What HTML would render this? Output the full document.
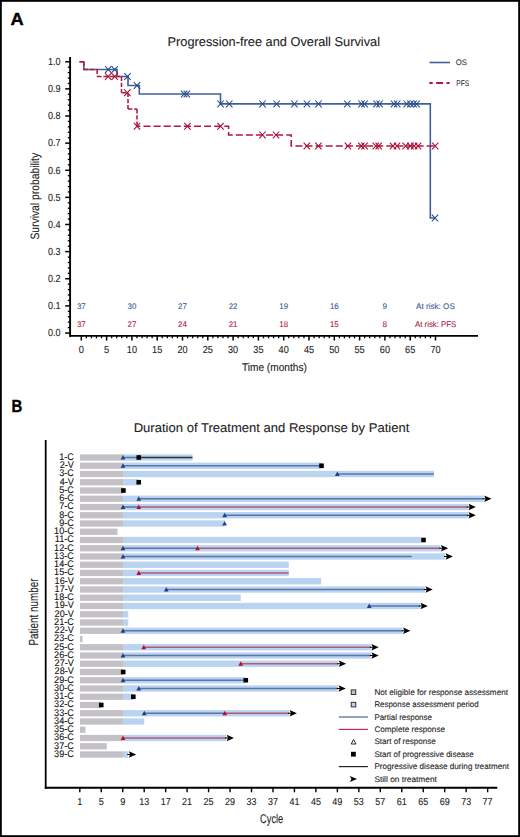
<!DOCTYPE html>
<html><head><meta charset="utf-8"><style>
html,body{margin:0;padding:0;background:#fff;}
svg{display:block;font-family:"Liberation Sans", sans-serif;text-rendering:geometricPrecision;}
</style></head><body>
<svg width="520" height="837" viewBox="0 0 520 837">
<rect x="0" y="0" width="520" height="837" fill="#fff"/>
<text x="10.6" y="24.9" font-size="17.6" text-anchor="start" fill="#000" stroke="#000" stroke-width="0.4" font-weight="bold" textLength="13.2" lengthAdjust="spacingAndGlyphs">A</text>
<text x="167.5" y="45.5" font-size="12.8" text-anchor="start" fill="#222" stroke="#222" stroke-width="0.1" font-weight="normal" textLength="212.5" lengthAdjust="spacingAndGlyphs">Progression-free and Overall Survival</text>
<line x1="429.5" y1="62.5" x2="450" y2="62.5" stroke="#41609a" stroke-width="1.6"/>
<text x="455.8" y="65.3" font-size="8.2" text-anchor="start" fill="#333" stroke="#333" stroke-width="0.1" font-weight="normal" textLength="11.2" lengthAdjust="spacingAndGlyphs">OS</text>
<line x1="429.3" y1="83" x2="449.6" y2="83" stroke="#b3163f" stroke-width="2" stroke-dasharray="3.4 3.5 6.8 3.5 3.4"/>
<text x="456.3" y="85.5" font-size="8.2" text-anchor="start" fill="#333" stroke="#333" stroke-width="0.1" font-weight="normal" textLength="12.9" lengthAdjust="spacingAndGlyphs">PFS</text>
<g stroke="#000" fill="none">
<line x1="70.1" y1="57" x2="70.1" y2="336.8" stroke-width="1.9"/>
<line x1="69.2" y1="335.9" x2="478" y2="335.9" stroke-width="1.9"/>
<line x1="65.2" y1="333.00" x2="70" y2="333.00" stroke-width="1.5"/>
<line x1="67.8" y1="327.58" x2="70" y2="327.58" stroke-width="1.3"/>
<line x1="67.8" y1="322.15" x2="70" y2="322.15" stroke-width="1.3"/>
<line x1="67.8" y1="316.73" x2="70" y2="316.73" stroke-width="1.3"/>
<line x1="67.8" y1="311.30" x2="70" y2="311.30" stroke-width="1.3"/>
<line x1="65.2" y1="305.88" x2="70" y2="305.88" stroke-width="1.5"/>
<line x1="67.8" y1="300.45" x2="70" y2="300.45" stroke-width="1.3"/>
<line x1="67.8" y1="295.03" x2="70" y2="295.03" stroke-width="1.3"/>
<line x1="67.8" y1="289.60" x2="70" y2="289.60" stroke-width="1.3"/>
<line x1="67.8" y1="284.18" x2="70" y2="284.18" stroke-width="1.3"/>
<line x1="65.2" y1="278.75" x2="70" y2="278.75" stroke-width="1.5"/>
<line x1="67.8" y1="273.33" x2="70" y2="273.33" stroke-width="1.3"/>
<line x1="67.8" y1="267.90" x2="70" y2="267.90" stroke-width="1.3"/>
<line x1="67.8" y1="262.48" x2="70" y2="262.48" stroke-width="1.3"/>
<line x1="67.8" y1="257.05" x2="70" y2="257.05" stroke-width="1.3"/>
<line x1="65.2" y1="251.63" x2="70" y2="251.63" stroke-width="1.5"/>
<line x1="67.8" y1="246.20" x2="70" y2="246.20" stroke-width="1.3"/>
<line x1="67.8" y1="240.78" x2="70" y2="240.78" stroke-width="1.3"/>
<line x1="67.8" y1="235.35" x2="70" y2="235.35" stroke-width="1.3"/>
<line x1="67.8" y1="229.93" x2="70" y2="229.93" stroke-width="1.3"/>
<line x1="65.2" y1="224.50" x2="70" y2="224.50" stroke-width="1.5"/>
<line x1="67.8" y1="219.08" x2="70" y2="219.08" stroke-width="1.3"/>
<line x1="67.8" y1="213.65" x2="70" y2="213.65" stroke-width="1.3"/>
<line x1="67.8" y1="208.23" x2="70" y2="208.23" stroke-width="1.3"/>
<line x1="67.8" y1="202.80" x2="70" y2="202.80" stroke-width="1.3"/>
<line x1="65.2" y1="197.38" x2="70" y2="197.38" stroke-width="1.5"/>
<line x1="67.8" y1="191.96" x2="70" y2="191.96" stroke-width="1.3"/>
<line x1="67.8" y1="186.53" x2="70" y2="186.53" stroke-width="1.3"/>
<line x1="67.8" y1="181.11" x2="70" y2="181.11" stroke-width="1.3"/>
<line x1="67.8" y1="175.68" x2="70" y2="175.68" stroke-width="1.3"/>
<line x1="65.2" y1="170.26" x2="70" y2="170.26" stroke-width="1.5"/>
<line x1="67.8" y1="164.83" x2="70" y2="164.83" stroke-width="1.3"/>
<line x1="67.8" y1="159.41" x2="70" y2="159.41" stroke-width="1.3"/>
<line x1="67.8" y1="153.98" x2="70" y2="153.98" stroke-width="1.3"/>
<line x1="67.8" y1="148.56" x2="70" y2="148.56" stroke-width="1.3"/>
<line x1="65.2" y1="143.13" x2="70" y2="143.13" stroke-width="1.5"/>
<line x1="67.8" y1="137.71" x2="70" y2="137.71" stroke-width="1.3"/>
<line x1="67.8" y1="132.28" x2="70" y2="132.28" stroke-width="1.3"/>
<line x1="67.8" y1="126.86" x2="70" y2="126.86" stroke-width="1.3"/>
<line x1="67.8" y1="121.43" x2="70" y2="121.43" stroke-width="1.3"/>
<line x1="65.2" y1="116.01" x2="70" y2="116.01" stroke-width="1.5"/>
<line x1="67.8" y1="110.58" x2="70" y2="110.58" stroke-width="1.3"/>
<line x1="67.8" y1="105.16" x2="70" y2="105.16" stroke-width="1.3"/>
<line x1="67.8" y1="99.73" x2="70" y2="99.73" stroke-width="1.3"/>
<line x1="67.8" y1="94.31" x2="70" y2="94.31" stroke-width="1.3"/>
<line x1="65.2" y1="88.88" x2="70" y2="88.88" stroke-width="1.5"/>
<line x1="67.8" y1="83.46" x2="70" y2="83.46" stroke-width="1.3"/>
<line x1="67.8" y1="78.03" x2="70" y2="78.03" stroke-width="1.3"/>
<line x1="67.8" y1="72.61" x2="70" y2="72.61" stroke-width="1.3"/>
<line x1="67.8" y1="67.18" x2="70" y2="67.18" stroke-width="1.3"/>
<line x1="65.2" y1="61.76" x2="70" y2="61.76" stroke-width="1.5"/>
<line x1="81.30" y1="336" x2="81.30" y2="340.5" stroke-width="1.5"/>
<line x1="86.36" y1="336" x2="86.36" y2="338.3" stroke-width="1.3"/>
<line x1="91.42" y1="336" x2="91.42" y2="338.3" stroke-width="1.3"/>
<line x1="96.48" y1="336" x2="96.48" y2="338.3" stroke-width="1.3"/>
<line x1="101.54" y1="336" x2="101.54" y2="338.3" stroke-width="1.3"/>
<line x1="106.60" y1="336" x2="106.60" y2="340.5" stroke-width="1.5"/>
<line x1="111.66" y1="336" x2="111.66" y2="338.3" stroke-width="1.3"/>
<line x1="116.72" y1="336" x2="116.72" y2="338.3" stroke-width="1.3"/>
<line x1="121.78" y1="336" x2="121.78" y2="338.3" stroke-width="1.3"/>
<line x1="126.84" y1="336" x2="126.84" y2="338.3" stroke-width="1.3"/>
<line x1="131.90" y1="336" x2="131.90" y2="340.5" stroke-width="1.5"/>
<line x1="136.96" y1="336" x2="136.96" y2="338.3" stroke-width="1.3"/>
<line x1="142.02" y1="336" x2="142.02" y2="338.3" stroke-width="1.3"/>
<line x1="147.08" y1="336" x2="147.08" y2="338.3" stroke-width="1.3"/>
<line x1="152.14" y1="336" x2="152.14" y2="338.3" stroke-width="1.3"/>
<line x1="157.20" y1="336" x2="157.20" y2="340.5" stroke-width="1.5"/>
<line x1="162.26" y1="336" x2="162.26" y2="338.3" stroke-width="1.3"/>
<line x1="167.32" y1="336" x2="167.32" y2="338.3" stroke-width="1.3"/>
<line x1="172.38" y1="336" x2="172.38" y2="338.3" stroke-width="1.3"/>
<line x1="177.44" y1="336" x2="177.44" y2="338.3" stroke-width="1.3"/>
<line x1="182.50" y1="336" x2="182.50" y2="340.5" stroke-width="1.5"/>
<line x1="187.56" y1="336" x2="187.56" y2="338.3" stroke-width="1.3"/>
<line x1="192.62" y1="336" x2="192.62" y2="338.3" stroke-width="1.3"/>
<line x1="197.68" y1="336" x2="197.68" y2="338.3" stroke-width="1.3"/>
<line x1="202.74" y1="336" x2="202.74" y2="338.3" stroke-width="1.3"/>
<line x1="207.80" y1="336" x2="207.80" y2="340.5" stroke-width="1.5"/>
<line x1="212.86" y1="336" x2="212.86" y2="338.3" stroke-width="1.3"/>
<line x1="217.92" y1="336" x2="217.92" y2="338.3" stroke-width="1.3"/>
<line x1="222.98" y1="336" x2="222.98" y2="338.3" stroke-width="1.3"/>
<line x1="228.04" y1="336" x2="228.04" y2="338.3" stroke-width="1.3"/>
<line x1="233.10" y1="336" x2="233.10" y2="340.5" stroke-width="1.5"/>
<line x1="238.16" y1="336" x2="238.16" y2="338.3" stroke-width="1.3"/>
<line x1="243.22" y1="336" x2="243.22" y2="338.3" stroke-width="1.3"/>
<line x1="248.28" y1="336" x2="248.28" y2="338.3" stroke-width="1.3"/>
<line x1="253.34" y1="336" x2="253.34" y2="338.3" stroke-width="1.3"/>
<line x1="258.40" y1="336" x2="258.40" y2="340.5" stroke-width="1.5"/>
<line x1="263.46" y1="336" x2="263.46" y2="338.3" stroke-width="1.3"/>
<line x1="268.52" y1="336" x2="268.52" y2="338.3" stroke-width="1.3"/>
<line x1="273.58" y1="336" x2="273.58" y2="338.3" stroke-width="1.3"/>
<line x1="278.64" y1="336" x2="278.64" y2="338.3" stroke-width="1.3"/>
<line x1="283.70" y1="336" x2="283.70" y2="340.5" stroke-width="1.5"/>
<line x1="288.76" y1="336" x2="288.76" y2="338.3" stroke-width="1.3"/>
<line x1="293.82" y1="336" x2="293.82" y2="338.3" stroke-width="1.3"/>
<line x1="298.88" y1="336" x2="298.88" y2="338.3" stroke-width="1.3"/>
<line x1="303.94" y1="336" x2="303.94" y2="338.3" stroke-width="1.3"/>
<line x1="309.00" y1="336" x2="309.00" y2="340.5" stroke-width="1.5"/>
<line x1="314.06" y1="336" x2="314.06" y2="338.3" stroke-width="1.3"/>
<line x1="319.12" y1="336" x2="319.12" y2="338.3" stroke-width="1.3"/>
<line x1="324.18" y1="336" x2="324.18" y2="338.3" stroke-width="1.3"/>
<line x1="329.24" y1="336" x2="329.24" y2="338.3" stroke-width="1.3"/>
<line x1="334.30" y1="336" x2="334.30" y2="340.5" stroke-width="1.5"/>
<line x1="339.36" y1="336" x2="339.36" y2="338.3" stroke-width="1.3"/>
<line x1="344.42" y1="336" x2="344.42" y2="338.3" stroke-width="1.3"/>
<line x1="349.48" y1="336" x2="349.48" y2="338.3" stroke-width="1.3"/>
<line x1="354.54" y1="336" x2="354.54" y2="338.3" stroke-width="1.3"/>
<line x1="359.60" y1="336" x2="359.60" y2="340.5" stroke-width="1.5"/>
<line x1="364.66" y1="336" x2="364.66" y2="338.3" stroke-width="1.3"/>
<line x1="369.72" y1="336" x2="369.72" y2="338.3" stroke-width="1.3"/>
<line x1="374.78" y1="336" x2="374.78" y2="338.3" stroke-width="1.3"/>
<line x1="379.84" y1="336" x2="379.84" y2="338.3" stroke-width="1.3"/>
<line x1="384.90" y1="336" x2="384.90" y2="340.5" stroke-width="1.5"/>
<line x1="389.96" y1="336" x2="389.96" y2="338.3" stroke-width="1.3"/>
<line x1="395.02" y1="336" x2="395.02" y2="338.3" stroke-width="1.3"/>
<line x1="400.08" y1="336" x2="400.08" y2="338.3" stroke-width="1.3"/>
<line x1="405.14" y1="336" x2="405.14" y2="338.3" stroke-width="1.3"/>
<line x1="410.20" y1="336" x2="410.20" y2="340.5" stroke-width="1.5"/>
<line x1="415.26" y1="336" x2="415.26" y2="338.3" stroke-width="1.3"/>
<line x1="420.32" y1="336" x2="420.32" y2="338.3" stroke-width="1.3"/>
<line x1="425.38" y1="336" x2="425.38" y2="338.3" stroke-width="1.3"/>
<line x1="430.44" y1="336" x2="430.44" y2="338.3" stroke-width="1.3"/>
<line x1="435.50" y1="336" x2="435.50" y2="340.5" stroke-width="1.5"/>
</g>
<text x="60.6" y="336.30" font-size="10.2" text-anchor="end" fill="#222" stroke="#222" stroke-width="0.1" font-weight="normal" textLength="12.6" lengthAdjust="spacingAndGlyphs">0.0</text>
<text x="60.6" y="309.18" font-size="10.2" text-anchor="end" fill="#222" stroke="#222" stroke-width="0.1" font-weight="normal" textLength="12.6" lengthAdjust="spacingAndGlyphs">0.1</text>
<text x="60.6" y="282.05" font-size="10.2" text-anchor="end" fill="#222" stroke="#222" stroke-width="0.1" font-weight="normal" textLength="12.6" lengthAdjust="spacingAndGlyphs">0.2</text>
<text x="60.6" y="254.93" font-size="10.2" text-anchor="end" fill="#222" stroke="#222" stroke-width="0.1" font-weight="normal" textLength="12.6" lengthAdjust="spacingAndGlyphs">0.3</text>
<text x="60.6" y="227.80" font-size="10.2" text-anchor="end" fill="#222" stroke="#222" stroke-width="0.1" font-weight="normal" textLength="12.6" lengthAdjust="spacingAndGlyphs">0.4</text>
<text x="60.6" y="200.68" font-size="10.2" text-anchor="end" fill="#222" stroke="#222" stroke-width="0.1" font-weight="normal" textLength="12.6" lengthAdjust="spacingAndGlyphs">0.5</text>
<text x="60.6" y="173.56" font-size="10.2" text-anchor="end" fill="#222" stroke="#222" stroke-width="0.1" font-weight="normal" textLength="12.6" lengthAdjust="spacingAndGlyphs">0.6</text>
<text x="60.6" y="146.43" font-size="10.2" text-anchor="end" fill="#222" stroke="#222" stroke-width="0.1" font-weight="normal" textLength="12.6" lengthAdjust="spacingAndGlyphs">0.7</text>
<text x="60.6" y="119.31" font-size="10.2" text-anchor="end" fill="#222" stroke="#222" stroke-width="0.1" font-weight="normal" textLength="12.6" lengthAdjust="spacingAndGlyphs">0.8</text>
<text x="60.6" y="92.18" font-size="10.2" text-anchor="end" fill="#222" stroke="#222" stroke-width="0.1" font-weight="normal" textLength="12.6" lengthAdjust="spacingAndGlyphs">0.9</text>
<text x="60.6" y="65.06" font-size="10.2" text-anchor="end" fill="#222" stroke="#222" stroke-width="0.1" font-weight="normal" textLength="12.6" lengthAdjust="spacingAndGlyphs">1.0</text>
<text x="81.30" y="353.0" font-size="10.2" text-anchor="middle" fill="#222" stroke="#222" stroke-width="0.1" font-weight="normal" textLength="5.2" lengthAdjust="spacingAndGlyphs">0</text>
<text x="106.60" y="353.0" font-size="10.2" text-anchor="middle" fill="#222" stroke="#222" stroke-width="0.1" font-weight="normal" textLength="5.2" lengthAdjust="spacingAndGlyphs">5</text>
<text x="131.90" y="353.0" font-size="10.2" text-anchor="middle" fill="#222" stroke="#222" stroke-width="0.1" font-weight="normal" textLength="10.2" lengthAdjust="spacingAndGlyphs">10</text>
<text x="157.20" y="353.0" font-size="10.2" text-anchor="middle" fill="#222" stroke="#222" stroke-width="0.1" font-weight="normal" textLength="10.2" lengthAdjust="spacingAndGlyphs">15</text>
<text x="182.50" y="353.0" font-size="10.2" text-anchor="middle" fill="#222" stroke="#222" stroke-width="0.1" font-weight="normal" textLength="10.2" lengthAdjust="spacingAndGlyphs">20</text>
<text x="207.80" y="353.0" font-size="10.2" text-anchor="middle" fill="#222" stroke="#222" stroke-width="0.1" font-weight="normal" textLength="10.2" lengthAdjust="spacingAndGlyphs">25</text>
<text x="233.10" y="353.0" font-size="10.2" text-anchor="middle" fill="#222" stroke="#222" stroke-width="0.1" font-weight="normal" textLength="10.2" lengthAdjust="spacingAndGlyphs">30</text>
<text x="258.40" y="353.0" font-size="10.2" text-anchor="middle" fill="#222" stroke="#222" stroke-width="0.1" font-weight="normal" textLength="10.2" lengthAdjust="spacingAndGlyphs">35</text>
<text x="283.70" y="353.0" font-size="10.2" text-anchor="middle" fill="#222" stroke="#222" stroke-width="0.1" font-weight="normal" textLength="10.2" lengthAdjust="spacingAndGlyphs">40</text>
<text x="309.00" y="353.0" font-size="10.2" text-anchor="middle" fill="#222" stroke="#222" stroke-width="0.1" font-weight="normal" textLength="10.2" lengthAdjust="spacingAndGlyphs">45</text>
<text x="334.30" y="353.0" font-size="10.2" text-anchor="middle" fill="#222" stroke="#222" stroke-width="0.1" font-weight="normal" textLength="10.2" lengthAdjust="spacingAndGlyphs">50</text>
<text x="359.60" y="353.0" font-size="10.2" text-anchor="middle" fill="#222" stroke="#222" stroke-width="0.1" font-weight="normal" textLength="10.2" lengthAdjust="spacingAndGlyphs">55</text>
<text x="384.90" y="353.0" font-size="10.2" text-anchor="middle" fill="#222" stroke="#222" stroke-width="0.1" font-weight="normal" textLength="10.2" lengthAdjust="spacingAndGlyphs">60</text>
<text x="410.20" y="353.0" font-size="10.2" text-anchor="middle" fill="#222" stroke="#222" stroke-width="0.1" font-weight="normal" textLength="10.2" lengthAdjust="spacingAndGlyphs">65</text>
<text x="435.50" y="353.0" font-size="10.2" text-anchor="middle" fill="#222" stroke="#222" stroke-width="0.1" font-weight="normal" textLength="10.2" lengthAdjust="spacingAndGlyphs">70</text>
<text x="241.9" y="370.8" font-size="11.2" text-anchor="start" fill="#222" stroke="#222" stroke-width="0.1" font-weight="normal" textLength="65" lengthAdjust="spacingAndGlyphs">Time (months)</text>
<text transform="translate(39.3,239.6) rotate(-90)" font-size="12.2" fill="#222" stroke="#222" stroke-width="0.1" textLength="86.7" lengthAdjust="spacingAndGlyphs">Survival probability</text>
<text x="81.30" y="309.2" font-size="8.2" text-anchor="middle" fill="#3a5a98" stroke="#3a5a98" stroke-width="0.1" font-weight="normal" textLength="8.8" lengthAdjust="spacingAndGlyphs">37</text>
<text x="81.30" y="326.8" font-size="8.2" text-anchor="middle" fill="#b01a40" stroke="#b01a40" stroke-width="0.1" font-weight="normal" textLength="8.8" lengthAdjust="spacingAndGlyphs">37</text>
<text x="131.90" y="309.2" font-size="8.2" text-anchor="middle" fill="#3a5a98" stroke="#3a5a98" stroke-width="0.1" font-weight="normal" textLength="8.8" lengthAdjust="spacingAndGlyphs">30</text>
<text x="131.90" y="326.8" font-size="8.2" text-anchor="middle" fill="#b01a40" stroke="#b01a40" stroke-width="0.1" font-weight="normal" textLength="8.8" lengthAdjust="spacingAndGlyphs">27</text>
<text x="182.50" y="309.2" font-size="8.2" text-anchor="middle" fill="#3a5a98" stroke="#3a5a98" stroke-width="0.1" font-weight="normal" textLength="8.8" lengthAdjust="spacingAndGlyphs">27</text>
<text x="182.50" y="326.8" font-size="8.2" text-anchor="middle" fill="#b01a40" stroke="#b01a40" stroke-width="0.1" font-weight="normal" textLength="8.8" lengthAdjust="spacingAndGlyphs">24</text>
<text x="233.10" y="309.2" font-size="8.2" text-anchor="middle" fill="#3a5a98" stroke="#3a5a98" stroke-width="0.1" font-weight="normal" textLength="8.8" lengthAdjust="spacingAndGlyphs">22</text>
<text x="233.10" y="326.8" font-size="8.2" text-anchor="middle" fill="#b01a40" stroke="#b01a40" stroke-width="0.1" font-weight="normal" textLength="8.8" lengthAdjust="spacingAndGlyphs">21</text>
<text x="283.70" y="309.2" font-size="8.2" text-anchor="middle" fill="#3a5a98" stroke="#3a5a98" stroke-width="0.1" font-weight="normal" textLength="8.8" lengthAdjust="spacingAndGlyphs">19</text>
<text x="283.70" y="326.8" font-size="8.2" text-anchor="middle" fill="#b01a40" stroke="#b01a40" stroke-width="0.1" font-weight="normal" textLength="8.8" lengthAdjust="spacingAndGlyphs">18</text>
<text x="334.30" y="309.2" font-size="8.2" text-anchor="middle" fill="#3a5a98" stroke="#3a5a98" stroke-width="0.1" font-weight="normal" textLength="8.8" lengthAdjust="spacingAndGlyphs">16</text>
<text x="334.30" y="326.8" font-size="8.2" text-anchor="middle" fill="#b01a40" stroke="#b01a40" stroke-width="0.1" font-weight="normal" textLength="8.8" lengthAdjust="spacingAndGlyphs">15</text>
<text x="384.90" y="309.2" font-size="8.2" text-anchor="middle" fill="#3a5a98" stroke="#3a5a98" stroke-width="0.1" font-weight="normal" textLength="4.6" lengthAdjust="spacingAndGlyphs">9</text>
<text x="384.90" y="326.8" font-size="8.2" text-anchor="middle" fill="#b01a40" stroke="#b01a40" stroke-width="0.1" font-weight="normal" textLength="4.6" lengthAdjust="spacingAndGlyphs">8</text>
<text x="416.1" y="309.2" font-size="8.2" text-anchor="start" fill="#3a5a98" stroke="#3a5a98" stroke-width="0.1" font-weight="normal" textLength="38.7" lengthAdjust="spacingAndGlyphs">At risk: OS</text>
<text x="415" y="326.8" font-size="8.2" text-anchor="start" fill="#b01a40" stroke="#b01a40" stroke-width="0.1" font-weight="normal" textLength="41.3" lengthAdjust="spacingAndGlyphs">At risk: PFS</text>
<path d="M79.5,61.8 L83.8,61.8 L83.8,69.5 L117,69.5 L117,76.5 L128,76.5 L128,85.5 L139.3,85.5 L139.3,94 L220.5,94 L220.5,103.9 L430.3,103.9 L430.3,218 L435,218" fill="none" stroke="#41609a" stroke-width="1.6"/>
<line x1="79.5" y1="61.8" x2="83.8" y2="61.8" stroke="#b3163f" stroke-width="1.55" stroke-dasharray="4.4 1.8"/>
<line x1="83.8" y1="61.8" x2="83.8" y2="69.5" stroke="#b3163f" stroke-width="1.55" stroke-dasharray="4.4 1.8"/>
<line x1="83.8" y1="69.5" x2="97.2" y2="69.5" stroke="#b3163f" stroke-width="1.55" stroke-dasharray="4.4 1.8"/>
<line x1="97.2" y1="69.5" x2="97.2" y2="76.5" stroke="#b3163f" stroke-width="1.55" stroke-dasharray="4.4 1.8"/>
<line x1="97.2" y1="76.5" x2="121.5" y2="76.5" stroke="#b3163f" stroke-width="1.55" stroke-dasharray="4.4 1.8"/>
<line x1="121.5" y1="76.5" x2="121.5" y2="92.7" stroke="#b3163f" stroke-width="1.55" stroke-dasharray="4.4 1.8"/>
<line x1="121.5" y1="92.7" x2="128" y2="92.7" stroke="#b3163f" stroke-width="1.55" stroke-dasharray="4.4 1.8"/>
<line x1="128" y1="92.7" x2="128" y2="109" stroke="#b3163f" stroke-width="1.55" stroke-dasharray="4.4 1.8"/>
<line x1="128" y1="109" x2="137" y2="109" stroke="#b3163f" stroke-width="1.55" stroke-dasharray="4.4 1.8"/>
<line x1="137" y1="109" x2="137" y2="126.2" stroke="#b3163f" stroke-width="1.55" stroke-dasharray="4.4 1.8"/>
<path d="M137,126.2 L228.6,126.2 L228.6,134.9 L291.2,134.9 L291.2,146 L435,146" fill="none" stroke="#b3163f" stroke-width="1.55" stroke-dasharray="7 3.1" stroke-dashoffset="3.6"/>
<path d="M105.10,66.10 L111.50,72.90 M105.10,72.90 L111.50,66.10" stroke="#2a4a86" stroke-width="1.05" fill="none"/>
<path d="M111.50,66.10 L117.90,72.90 M111.50,72.90 L117.90,66.10" stroke="#2a4a86" stroke-width="1.05" fill="none"/>
<path d="M124.30,73.10 L130.70,79.90 M124.30,79.90 L130.70,73.10" stroke="#2a4a86" stroke-width="1.05" fill="none"/>
<path d="M133.80,82.10 L140.20,88.90 M133.80,88.90 L140.20,82.10" stroke="#2a4a86" stroke-width="1.05" fill="none"/>
<path d="M180.90,90.60 L187.30,97.40 M180.90,97.40 L187.30,90.60" stroke="#2a4a86" stroke-width="1.05" fill="none"/>
<path d="M183.60,90.60 L190.00,97.40 M183.60,97.40 L190.00,90.60" stroke="#2a4a86" stroke-width="1.05" fill="none"/>
<path d="M217.30,100.50 L223.70,107.30 M217.30,107.30 L223.70,100.50" stroke="#2a4a86" stroke-width="1.05" fill="none"/>
<path d="M226.10,100.50 L232.50,107.30 M226.10,107.30 L232.50,100.50" stroke="#2a4a86" stroke-width="1.05" fill="none"/>
<path d="M259.30,100.50 L265.70,107.30 M259.30,107.30 L265.70,100.50" stroke="#2a4a86" stroke-width="1.05" fill="none"/>
<path d="M273.40,100.50 L279.80,107.30 M273.40,107.30 L279.80,100.50" stroke="#2a4a86" stroke-width="1.05" fill="none"/>
<path d="M291.20,100.50 L297.60,107.30 M291.20,107.30 L297.60,100.50" stroke="#2a4a86" stroke-width="1.05" fill="none"/>
<path d="M303.70,100.50 L310.10,107.30 M303.70,107.30 L310.10,100.50" stroke="#2a4a86" stroke-width="1.05" fill="none"/>
<path d="M315.30,100.50 L321.70,107.30 M315.30,107.30 L321.70,100.50" stroke="#2a4a86" stroke-width="1.05" fill="none"/>
<path d="M344.10,100.50 L350.50,107.30 M344.10,107.30 L350.50,100.50" stroke="#2a4a86" stroke-width="1.05" fill="none"/>
<path d="M358.30,100.50 L364.70,107.30 M358.30,107.30 L364.70,100.50" stroke="#2a4a86" stroke-width="1.05" fill="none"/>
<path d="M361.40,100.50 L367.80,107.30 M361.40,107.30 L367.80,100.50" stroke="#2a4a86" stroke-width="1.05" fill="none"/>
<path d="M373.30,100.50 L379.70,107.30 M373.30,107.30 L379.70,100.50" stroke="#2a4a86" stroke-width="1.05" fill="none"/>
<path d="M376.40,100.50 L382.80,107.30 M376.40,107.30 L382.80,100.50" stroke="#2a4a86" stroke-width="1.05" fill="none"/>
<path d="M390.80,100.50 L397.20,107.30 M390.80,107.30 L397.20,100.50" stroke="#2a4a86" stroke-width="1.05" fill="none"/>
<path d="M394.00,100.50 L400.40,107.30 M394.00,107.30 L400.40,100.50" stroke="#2a4a86" stroke-width="1.05" fill="none"/>
<path d="M403.50,100.50 L409.90,107.30 M403.50,107.30 L409.90,100.50" stroke="#2a4a86" stroke-width="1.05" fill="none"/>
<path d="M407.20,100.50 L413.60,107.30 M407.20,107.30 L413.60,100.50" stroke="#2a4a86" stroke-width="1.05" fill="none"/>
<path d="M410.40,100.50 L416.80,107.30 M410.40,107.30 L416.80,100.50" stroke="#2a4a86" stroke-width="1.05" fill="none"/>
<path d="M413.50,100.50 L419.90,107.30 M413.50,107.30 L419.90,100.50" stroke="#2a4a86" stroke-width="1.05" fill="none"/>
<path d="M431.80,214.60 L438.20,221.40 M431.80,221.40 L438.20,214.60" stroke="#2a4a86" stroke-width="1.05" fill="none"/>
<path d="M105.00,73.10 L111.40,79.90 M105.00,79.90 L111.40,73.10" stroke="#a80c36" stroke-width="1.05" fill="none"/>
<path d="M111.50,73.10 L117.90,79.90 M111.50,79.90 L117.90,73.10" stroke="#a80c36" stroke-width="1.05" fill="none"/>
<path d="M124.10,89.30 L130.50,96.10 M124.10,96.10 L130.50,89.30" stroke="#a80c36" stroke-width="1.05" fill="none"/>
<path d="M133.80,122.80 L140.20,129.60 M133.80,129.60 L140.20,122.80" stroke="#a80c36" stroke-width="1.05" fill="none"/>
<path d="M184.30,122.80 L190.70,129.60 M184.30,129.60 L190.70,122.80" stroke="#a80c36" stroke-width="1.05" fill="none"/>
<path d="M217.30,122.80 L223.70,129.60 M217.30,129.60 L223.70,122.80" stroke="#a80c36" stroke-width="1.05" fill="none"/>
<path d="M259.30,131.50 L265.70,138.30 M259.30,138.30 L265.70,131.50" stroke="#a80c36" stroke-width="1.05" fill="none"/>
<path d="M272.80,131.50 L279.20,138.30 M272.80,138.30 L279.20,131.50" stroke="#a80c36" stroke-width="1.05" fill="none"/>
<path d="M303.60,142.60 L310.00,149.40 M303.60,149.40 L310.00,142.60" stroke="#a80c36" stroke-width="1.05" fill="none"/>
<path d="M315.20,142.60 L321.60,149.40 M315.20,149.40 L321.60,142.60" stroke="#a80c36" stroke-width="1.05" fill="none"/>
<path d="M344.70,142.60 L351.10,149.40 M344.70,149.40 L351.10,142.60" stroke="#a80c36" stroke-width="1.05" fill="none"/>
<path d="M358.10,142.60 L364.50,149.40 M358.10,149.40 L364.50,142.60" stroke="#a80c36" stroke-width="1.05" fill="none"/>
<path d="M361.40,142.60 L367.80,149.40 M361.40,149.40 L367.80,142.60" stroke="#a80c36" stroke-width="1.05" fill="none"/>
<path d="M372.60,142.60 L379.00,149.40 M372.60,149.40 L379.00,142.60" stroke="#a80c36" stroke-width="1.05" fill="none"/>
<path d="M375.50,142.60 L381.90,149.40 M375.50,149.40 L381.90,142.60" stroke="#a80c36" stroke-width="1.05" fill="none"/>
<path d="M389.80,142.60 L396.20,149.40 M389.80,149.40 L396.20,142.60" stroke="#a80c36" stroke-width="1.05" fill="none"/>
<path d="M393.80,142.60 L400.20,149.40 M393.80,149.40 L400.20,142.60" stroke="#a80c36" stroke-width="1.05" fill="none"/>
<path d="M402.40,142.60 L408.80,149.40 M402.40,149.40 L408.80,142.60" stroke="#a80c36" stroke-width="1.05" fill="none"/>
<path d="M407.20,142.60 L413.60,149.40 M407.20,149.40 L413.60,142.60" stroke="#a80c36" stroke-width="1.05" fill="none"/>
<path d="M411.00,142.60 L417.40,149.40 M411.00,149.40 L417.40,142.60" stroke="#a80c36" stroke-width="1.05" fill="none"/>
<path d="M414.80,142.60 L421.20,149.40 M414.80,149.40 L421.20,142.60" stroke="#a80c36" stroke-width="1.05" fill="none"/>
<path d="M432.00,142.60 L438.40,149.40 M432.00,149.40 L438.40,142.60" stroke="#a80c36" stroke-width="1.05" fill="none"/>
<text x="11.4" y="412.2" font-size="17.6" text-anchor="start" fill="#000" stroke="#000" stroke-width="0.4" font-weight="bold" textLength="10.8" lengthAdjust="spacingAndGlyphs">B</text>
<text x="133.7" y="432.2" font-size="12.8" text-anchor="start" fill="#222" stroke="#222" stroke-width="0.1" font-weight="normal" textLength="275.7" lengthAdjust="spacingAndGlyphs">Duration of Treatment and Response by Patient</text>
<g stroke="#000" fill="none">
<line x1="45.7" y1="440" x2="45.7" y2="788.7" stroke-width="1.8"/>
<line x1="44.8" y1="787.8" x2="497.3" y2="787.8" stroke-width="1.9"/>
<line x1="79.80" y1="787.8" x2="79.80" y2="792.3" stroke-width="1.4"/>
<line x1="101.26" y1="787.8" x2="101.26" y2="792.3" stroke-width="1.4"/>
<line x1="122.73" y1="787.8" x2="122.73" y2="792.3" stroke-width="1.4"/>
<line x1="144.19" y1="787.8" x2="144.19" y2="792.3" stroke-width="1.4"/>
<line x1="165.66" y1="787.8" x2="165.66" y2="792.3" stroke-width="1.4"/>
<line x1="187.12" y1="787.8" x2="187.12" y2="792.3" stroke-width="1.4"/>
<line x1="208.58" y1="787.8" x2="208.58" y2="792.3" stroke-width="1.4"/>
<line x1="230.05" y1="787.8" x2="230.05" y2="792.3" stroke-width="1.4"/>
<line x1="251.51" y1="787.8" x2="251.51" y2="792.3" stroke-width="1.4"/>
<line x1="272.98" y1="787.8" x2="272.98" y2="792.3" stroke-width="1.4"/>
<line x1="294.44" y1="787.8" x2="294.44" y2="792.3" stroke-width="1.4"/>
<line x1="315.90" y1="787.8" x2="315.90" y2="792.3" stroke-width="1.4"/>
<line x1="337.37" y1="787.8" x2="337.37" y2="792.3" stroke-width="1.4"/>
<line x1="358.83" y1="787.8" x2="358.83" y2="792.3" stroke-width="1.4"/>
<line x1="380.30" y1="787.8" x2="380.30" y2="792.3" stroke-width="1.4"/>
<line x1="401.76" y1="787.8" x2="401.76" y2="792.3" stroke-width="1.4"/>
<line x1="423.22" y1="787.8" x2="423.22" y2="792.3" stroke-width="1.4"/>
<line x1="444.69" y1="787.8" x2="444.69" y2="792.3" stroke-width="1.4"/>
<line x1="466.15" y1="787.8" x2="466.15" y2="792.3" stroke-width="1.4"/>
<line x1="487.62" y1="787.8" x2="487.62" y2="792.3" stroke-width="1.4"/>
</g>
<text x="79.80" y="805.2" font-size="10" text-anchor="middle" fill="#222" stroke="#222" stroke-width="0.1" font-weight="normal" textLength="5.1" lengthAdjust="spacingAndGlyphs">1</text>
<text x="101.26" y="805.2" font-size="10" text-anchor="middle" fill="#222" stroke="#222" stroke-width="0.1" font-weight="normal" textLength="5.1" lengthAdjust="spacingAndGlyphs">5</text>
<text x="122.73" y="805.2" font-size="10" text-anchor="middle" fill="#222" stroke="#222" stroke-width="0.1" font-weight="normal" textLength="5.1" lengthAdjust="spacingAndGlyphs">9</text>
<text x="144.19" y="805.2" font-size="10" text-anchor="middle" fill="#222" stroke="#222" stroke-width="0.1" font-weight="normal" textLength="10.0" lengthAdjust="spacingAndGlyphs">13</text>
<text x="165.66" y="805.2" font-size="10" text-anchor="middle" fill="#222" stroke="#222" stroke-width="0.1" font-weight="normal" textLength="10.0" lengthAdjust="spacingAndGlyphs">17</text>
<text x="187.12" y="805.2" font-size="10" text-anchor="middle" fill="#222" stroke="#222" stroke-width="0.1" font-weight="normal" textLength="10.0" lengthAdjust="spacingAndGlyphs">21</text>
<text x="208.58" y="805.2" font-size="10" text-anchor="middle" fill="#222" stroke="#222" stroke-width="0.1" font-weight="normal" textLength="10.0" lengthAdjust="spacingAndGlyphs">25</text>
<text x="230.05" y="805.2" font-size="10" text-anchor="middle" fill="#222" stroke="#222" stroke-width="0.1" font-weight="normal" textLength="10.0" lengthAdjust="spacingAndGlyphs">29</text>
<text x="251.51" y="805.2" font-size="10" text-anchor="middle" fill="#222" stroke="#222" stroke-width="0.1" font-weight="normal" textLength="10.0" lengthAdjust="spacingAndGlyphs">33</text>
<text x="272.98" y="805.2" font-size="10" text-anchor="middle" fill="#222" stroke="#222" stroke-width="0.1" font-weight="normal" textLength="10.0" lengthAdjust="spacingAndGlyphs">37</text>
<text x="294.44" y="805.2" font-size="10" text-anchor="middle" fill="#222" stroke="#222" stroke-width="0.1" font-weight="normal" textLength="10.0" lengthAdjust="spacingAndGlyphs">41</text>
<text x="315.90" y="805.2" font-size="10" text-anchor="middle" fill="#222" stroke="#222" stroke-width="0.1" font-weight="normal" textLength="10.0" lengthAdjust="spacingAndGlyphs">45</text>
<text x="337.37" y="805.2" font-size="10" text-anchor="middle" fill="#222" stroke="#222" stroke-width="0.1" font-weight="normal" textLength="10.0" lengthAdjust="spacingAndGlyphs">49</text>
<text x="358.83" y="805.2" font-size="10" text-anchor="middle" fill="#222" stroke="#222" stroke-width="0.1" font-weight="normal" textLength="10.0" lengthAdjust="spacingAndGlyphs">53</text>
<text x="380.30" y="805.2" font-size="10" text-anchor="middle" fill="#222" stroke="#222" stroke-width="0.1" font-weight="normal" textLength="10.0" lengthAdjust="spacingAndGlyphs">57</text>
<text x="401.76" y="805.2" font-size="10" text-anchor="middle" fill="#222" stroke="#222" stroke-width="0.1" font-weight="normal" textLength="10.0" lengthAdjust="spacingAndGlyphs">61</text>
<text x="423.22" y="805.2" font-size="10" text-anchor="middle" fill="#222" stroke="#222" stroke-width="0.1" font-weight="normal" textLength="10.0" lengthAdjust="spacingAndGlyphs">65</text>
<text x="444.69" y="805.2" font-size="10" text-anchor="middle" fill="#222" stroke="#222" stroke-width="0.1" font-weight="normal" textLength="10.0" lengthAdjust="spacingAndGlyphs">69</text>
<text x="466.15" y="805.2" font-size="10" text-anchor="middle" fill="#222" stroke="#222" stroke-width="0.1" font-weight="normal" textLength="10.0" lengthAdjust="spacingAndGlyphs">73</text>
<text x="487.62" y="805.2" font-size="10" text-anchor="middle" fill="#222" stroke="#222" stroke-width="0.1" font-weight="normal" textLength="10.0" lengthAdjust="spacingAndGlyphs">77</text>
<text x="260.1" y="823" font-size="12.7" text-anchor="start" fill="#222" stroke="#222" stroke-width="0.1" font-weight="normal" textLength="23.1" lengthAdjust="spacingAndGlyphs">Cycle</text>
<text transform="translate(38.3,645.5) rotate(-90)" font-size="13.2" fill="#222" stroke="#222" stroke-width="0.1" textLength="67" lengthAdjust="spacingAndGlyphs">Patient number</text>
<text x="73.8" y="459.90" font-size="9.6" text-anchor="end" fill="#111" stroke="#111" stroke-width="0.1" font-weight="normal" textLength="14.66" lengthAdjust="spacingAndGlyphs">1-C</text>
<rect x="80" y="454.35" width="43.00" height="6.3" fill="#c4c1c6"/>
<rect x="123" y="454.35" width="69.50" height="6.3" fill="#b9d3f0"/>
<line x1="123" y1="457.50" x2="138.75" y2="457.50" stroke="#5a76a8" stroke-width="1.6"/>
<line x1="138.75" y1="457.50" x2="192.5" y2="457.50" stroke="#2b3038" stroke-width="1.3"/>
<path d="M120.65,459.60 L123.00,455.10 L125.35,459.60 Z" fill="#1f3f84"/>
<rect x="136.45" y="455.20" width="4.6" height="4.6" fill="#000"/>
<text x="73.8" y="468.15" font-size="9.6" text-anchor="end" fill="#111" stroke="#111" stroke-width="0.1" font-weight="normal" textLength="14.16" lengthAdjust="spacingAndGlyphs">2-V</text>
<rect x="80" y="462.60" width="43.00" height="6.3" fill="#c4c1c6"/>
<rect x="123" y="462.60" width="198.50" height="6.3" fill="#b9d3f0"/>
<line x1="123" y1="465.75" x2="321.5" y2="465.75" stroke="#5a76a8" stroke-width="1.6"/>
<path d="M120.65,467.85 L123.00,463.35 L125.35,467.85 Z" fill="#1f3f84"/>
<rect x="319.20" y="463.45" width="4.6" height="4.6" fill="#000"/>
<text x="73.8" y="476.40" font-size="9.6" text-anchor="end" fill="#111" stroke="#111" stroke-width="0.1" font-weight="normal" textLength="14.66" lengthAdjust="spacingAndGlyphs">3-C</text>
<rect x="80" y="470.85" width="43.00" height="6.3" fill="#c4c1c6"/>
<rect x="123" y="470.85" width="310.90" height="6.3" fill="#b9d3f0"/>
<line x1="337.3" y1="474.00" x2="433.9" y2="474.00" stroke="#5a76a8" stroke-width="1.6"/>
<path d="M334.95,476.10 L337.30,471.60 L339.65,476.10 Z" fill="#1f3f84"/>
<text x="73.8" y="484.65" font-size="9.6" text-anchor="end" fill="#111" stroke="#111" stroke-width="0.1" font-weight="normal" textLength="14.16" lengthAdjust="spacingAndGlyphs">4-V</text>
<rect x="80" y="479.10" width="43.00" height="6.3" fill="#c4c1c6"/>
<rect x="123" y="479.10" width="15.75" height="6.3" fill="#b9d3f0"/>
<rect x="136.45" y="479.95" width="4.6" height="4.6" fill="#000"/>
<text x="73.8" y="492.90" font-size="9.6" text-anchor="end" fill="#111" stroke="#111" stroke-width="0.1" font-weight="normal" textLength="14.66" lengthAdjust="spacingAndGlyphs">5-C</text>
<rect x="80" y="487.35" width="43.00" height="6.3" fill="#c4c1c6"/>
<rect x="121.10" y="488.20" width="4.6" height="4.6" fill="#000"/>
<text x="73.8" y="501.15" font-size="9.6" text-anchor="end" fill="#111" stroke="#111" stroke-width="0.1" font-weight="normal" textLength="14.66" lengthAdjust="spacingAndGlyphs">6-C</text>
<rect x="80" y="495.60" width="43.00" height="6.3" fill="#c4c1c6"/>
<rect x="123" y="495.60" width="360.60" height="6.3" fill="#b9d3f0"/>
<line x1="138.75" y1="498.75" x2="483.6" y2="498.75" stroke="#5a76a8" stroke-width="1.6"/>
<path d="M136.40,500.85 L138.75,496.35 L141.10,500.85 Z" fill="#1f3f84"/>
<line x1="482.6" y1="498.75" x2="485.6" y2="498.75" stroke="#000" stroke-width="1"/>
<path d="M484.20,495.45 L491.50,498.75 L484.20,502.05 L485.50,498.75 Z" fill="#000"/>
<text x="73.8" y="509.40" font-size="9.6" text-anchor="end" fill="#111" stroke="#111" stroke-width="0.1" font-weight="normal" textLength="14.66" lengthAdjust="spacingAndGlyphs">7-C</text>
<rect x="80" y="503.85" width="43.00" height="6.3" fill="#c4c1c6"/>
<rect x="123" y="503.85" width="344.90" height="6.3" fill="#b9d3f0"/>
<line x1="123" y1="507.00" x2="138.75" y2="507.00" stroke="#5a76a8" stroke-width="1.6"/>
<line x1="138.75" y1="507.00" x2="467.9" y2="507.00" stroke="#b05a7a" stroke-width="1.6"/>
<path d="M120.65,509.10 L123.00,504.60 L125.35,509.10 Z" fill="#1f3f84"/>
<path d="M136.40,509.10 L138.75,504.60 L141.10,509.10 Z" fill="#c00a2a"/>
<line x1="466.9" y1="507.00" x2="469.9" y2="507.00" stroke="#000" stroke-width="1"/>
<path d="M468.50,503.70 L475.80,507.00 L468.50,510.30 L469.80,507.00 Z" fill="#000"/>
<text x="73.8" y="517.65" font-size="9.6" text-anchor="end" fill="#111" stroke="#111" stroke-width="0.1" font-weight="normal" textLength="14.66" lengthAdjust="spacingAndGlyphs">8-C</text>
<rect x="80" y="512.10" width="43.00" height="6.3" fill="#c4c1c6"/>
<rect x="123" y="512.10" width="344.90" height="6.3" fill="#b9d3f0"/>
<line x1="224.6" y1="515.25" x2="467.9" y2="515.25" stroke="#5a76a8" stroke-width="1.6"/>
<path d="M222.25,517.35 L224.60,512.85 L226.95,517.35 Z" fill="#1f3f84"/>
<line x1="466.9" y1="515.25" x2="469.9" y2="515.25" stroke="#000" stroke-width="1"/>
<path d="M468.50,511.95 L475.80,515.25 L468.50,518.55 L469.80,515.25 Z" fill="#000"/>
<text x="73.8" y="525.90" font-size="9.6" text-anchor="end" fill="#111" stroke="#111" stroke-width="0.1" font-weight="normal" textLength="14.66" lengthAdjust="spacingAndGlyphs">9-C</text>
<rect x="80" y="520.35" width="43.00" height="6.3" fill="#c4c1c6"/>
<rect x="123" y="520.35" width="101.60" height="6.3" fill="#b9d3f0"/>
<path d="M222.25,525.60 L224.60,521.10 L226.95,525.60 Z" fill="#1f3f84"/>
<text x="73.8" y="534.15" font-size="9.6" text-anchor="end" fill="#111" stroke="#111" stroke-width="0.1" font-weight="normal" textLength="19.72" lengthAdjust="spacingAndGlyphs">10-C</text>
<rect x="80" y="528.60" width="37.50" height="6.3" fill="#c4c1c6"/>
<text x="73.8" y="542.40" font-size="9.6" text-anchor="end" fill="#111" stroke="#111" stroke-width="0.1" font-weight="normal" textLength="19.05" lengthAdjust="spacingAndGlyphs">11-C</text>
<rect x="80" y="536.85" width="43.00" height="6.3" fill="#c4c1c6"/>
<rect x="123" y="536.85" width="298.00" height="6.3" fill="#b9d3f0"/>
<rect x="421.20" y="537.70" width="4.6" height="4.6" fill="#000"/>
<text x="73.8" y="550.65" font-size="9.6" text-anchor="end" fill="#111" stroke="#111" stroke-width="0.1" font-weight="normal" textLength="19.72" lengthAdjust="spacingAndGlyphs">12-C</text>
<rect x="80" y="545.10" width="43.00" height="6.3" fill="#c4c1c6"/>
<rect x="123" y="545.10" width="317.30" height="6.3" fill="#b9d3f0"/>
<line x1="123" y1="548.25" x2="197.5" y2="548.25" stroke="#5a76a8" stroke-width="1.6"/>
<line x1="197.5" y1="548.25" x2="440.3" y2="548.25" stroke="#b05a7a" stroke-width="1.6"/>
<path d="M120.65,550.35 L123.00,545.85 L125.35,550.35 Z" fill="#1f3f84"/>
<path d="M195.15,550.35 L197.50,545.85 L199.85,550.35 Z" fill="#c00a2a"/>
<line x1="439.3" y1="548.25" x2="442.3" y2="548.25" stroke="#000" stroke-width="1"/>
<path d="M440.90,544.95 L448.20,548.25 L440.90,551.55 L442.20,548.25 Z" fill="#000"/>
<text x="73.8" y="558.90" font-size="9.6" text-anchor="end" fill="#111" stroke="#111" stroke-width="0.1" font-weight="normal" textLength="19.72" lengthAdjust="spacingAndGlyphs">13-C</text>
<rect x="80" y="553.35" width="43.00" height="6.3" fill="#c4c1c6"/>
<rect x="123" y="553.35" width="322.00" height="6.3" fill="#b9d3f0"/>
<line x1="123" y1="556.50" x2="411.8" y2="556.50" stroke="#5a76a8" stroke-width="1.6"/>
<path d="M120.65,558.60 L123.00,554.10 L125.35,558.60 Z" fill="#1f3f84"/>
<line x1="444" y1="556.50" x2="447" y2="556.50" stroke="#000" stroke-width="1"/>
<path d="M445.60,553.20 L452.90,556.50 L445.60,559.80 L446.90,556.50 Z" fill="#000"/>
<text x="73.8" y="567.15" font-size="9.6" text-anchor="end" fill="#111" stroke="#111" stroke-width="0.1" font-weight="normal" textLength="19.72" lengthAdjust="spacingAndGlyphs">14-C</text>
<rect x="80" y="561.60" width="43.00" height="6.3" fill="#c4c1c6"/>
<rect x="123" y="561.60" width="165.75" height="6.3" fill="#b9d3f0"/>
<text x="73.8" y="575.40" font-size="9.6" text-anchor="end" fill="#111" stroke="#111" stroke-width="0.1" font-weight="normal" textLength="19.72" lengthAdjust="spacingAndGlyphs">15-C</text>
<rect x="80" y="569.85" width="43.00" height="6.3" fill="#c4c1c6"/>
<rect x="123" y="569.85" width="165.75" height="6.3" fill="#b9d3f0"/>
<line x1="138.75" y1="573.00" x2="288.75" y2="573.00" stroke="#b05a7a" stroke-width="1.6"/>
<path d="M136.40,575.10 L138.75,570.60 L141.10,575.10 Z" fill="#c00a2a"/>
<text x="73.8" y="583.65" font-size="9.6" text-anchor="end" fill="#111" stroke="#111" stroke-width="0.1" font-weight="normal" textLength="19.22" lengthAdjust="spacingAndGlyphs">16-V</text>
<rect x="80" y="578.10" width="43.00" height="6.3" fill="#c4c1c6"/>
<rect x="123" y="578.10" width="198.25" height="6.3" fill="#b9d3f0"/>
<text x="73.8" y="591.90" font-size="9.6" text-anchor="end" fill="#111" stroke="#111" stroke-width="0.1" font-weight="normal" textLength="19.22" lengthAdjust="spacingAndGlyphs">17-V</text>
<rect x="80" y="586.35" width="43.00" height="6.3" fill="#c4c1c6"/>
<rect x="123" y="586.35" width="301.80" height="6.3" fill="#b9d3f0"/>
<line x1="166.25" y1="589.50" x2="424.8" y2="589.50" stroke="#5a76a8" stroke-width="1.6"/>
<path d="M163.90,591.60 L166.25,587.10 L168.60,591.60 Z" fill="#1f3f84"/>
<line x1="423.8" y1="589.50" x2="426.8" y2="589.50" stroke="#000" stroke-width="1"/>
<path d="M425.40,586.20 L432.70,589.50 L425.40,592.80 L426.70,589.50 Z" fill="#000"/>
<text x="73.8" y="600.15" font-size="9.6" text-anchor="end" fill="#111" stroke="#111" stroke-width="0.1" font-weight="normal" textLength="19.72" lengthAdjust="spacingAndGlyphs">18-C</text>
<rect x="80" y="594.60" width="43.00" height="6.3" fill="#c4c1c6"/>
<rect x="123" y="594.60" width="117.75" height="6.3" fill="#b9d3f0"/>
<text x="73.8" y="608.40" font-size="9.6" text-anchor="end" fill="#111" stroke="#111" stroke-width="0.1" font-weight="normal" textLength="19.22" lengthAdjust="spacingAndGlyphs">19-V</text>
<rect x="80" y="602.85" width="43.00" height="6.3" fill="#c4c1c6"/>
<rect x="123" y="602.85" width="296.90" height="6.3" fill="#b9d3f0"/>
<line x1="369.2" y1="606.00" x2="419.9" y2="606.00" stroke="#5a76a8" stroke-width="1.6"/>
<path d="M366.85,608.10 L369.20,603.60 L371.55,608.10 Z" fill="#1f3f84"/>
<line x1="418.9" y1="606.00" x2="421.9" y2="606.00" stroke="#000" stroke-width="1"/>
<path d="M420.50,602.70 L427.80,606.00 L420.50,609.30 L421.80,606.00 Z" fill="#000"/>
<text x="73.8" y="616.65" font-size="9.6" text-anchor="end" fill="#111" stroke="#111" stroke-width="0.1" font-weight="normal" textLength="19.22" lengthAdjust="spacingAndGlyphs">20-V</text>
<rect x="80" y="611.10" width="43.00" height="6.3" fill="#c4c1c6"/>
<rect x="123" y="611.10" width="5.25" height="6.3" fill="#b9d3f0"/>
<text x="73.8" y="624.90" font-size="9.6" text-anchor="end" fill="#111" stroke="#111" stroke-width="0.1" font-weight="normal" textLength="19.72" lengthAdjust="spacingAndGlyphs">21-C</text>
<rect x="80" y="619.35" width="43.00" height="6.3" fill="#c4c1c6"/>
<rect x="123" y="619.35" width="5.25" height="6.3" fill="#b9d3f0"/>
<text x="73.8" y="633.15" font-size="9.6" text-anchor="end" fill="#111" stroke="#111" stroke-width="0.1" font-weight="normal" textLength="19.22" lengthAdjust="spacingAndGlyphs">22-V</text>
<rect x="80" y="627.60" width="43.00" height="6.3" fill="#c4c1c6"/>
<rect x="123" y="627.60" width="279.50" height="6.3" fill="#b9d3f0"/>
<line x1="123" y1="630.75" x2="402.5" y2="630.75" stroke="#5a76a8" stroke-width="1.6"/>
<path d="M120.65,632.85 L123.00,628.35 L125.35,632.85 Z" fill="#1f3f84"/>
<line x1="401.5" y1="630.75" x2="404.5" y2="630.75" stroke="#000" stroke-width="1"/>
<path d="M403.10,627.45 L410.40,630.75 L403.10,634.05 L404.40,630.75 Z" fill="#000"/>
<text x="73.8" y="641.40" font-size="9.6" text-anchor="end" fill="#111" stroke="#111" stroke-width="0.1" font-weight="normal" textLength="19.72" lengthAdjust="spacingAndGlyphs">23-C</text>
<rect x="80" y="635.85" width="2.50" height="6.3" fill="#c4c1c6"/>
<text x="73.8" y="649.65" font-size="9.6" text-anchor="end" fill="#111" stroke="#111" stroke-width="0.1" font-weight="normal" textLength="19.72" lengthAdjust="spacingAndGlyphs">25-C</text>
<rect x="80" y="644.10" width="43.00" height="6.3" fill="#c4c1c6"/>
<rect x="123" y="644.10" width="247.80" height="6.3" fill="#b9d3f0"/>
<line x1="143.75" y1="647.25" x2="370.8" y2="647.25" stroke="#b05a7a" stroke-width="1.6"/>
<path d="M141.40,649.35 L143.75,644.85 L146.10,649.35 Z" fill="#c00a2a"/>
<line x1="369.8" y1="647.25" x2="372.8" y2="647.25" stroke="#000" stroke-width="1"/>
<path d="M371.40,643.95 L378.70,647.25 L371.40,650.55 L372.70,647.25 Z" fill="#000"/>
<text x="73.8" y="657.90" font-size="9.6" text-anchor="end" fill="#111" stroke="#111" stroke-width="0.1" font-weight="normal" textLength="19.72" lengthAdjust="spacingAndGlyphs">26-C</text>
<rect x="80" y="652.35" width="43.00" height="6.3" fill="#c4c1c6"/>
<rect x="123" y="652.35" width="247.80" height="6.3" fill="#b9d3f0"/>
<line x1="123" y1="655.50" x2="370.8" y2="655.50" stroke="#5a76a8" stroke-width="1.6"/>
<path d="M120.65,657.60 L123.00,653.10 L125.35,657.60 Z" fill="#1f3f84"/>
<line x1="369.8" y1="655.50" x2="372.8" y2="655.50" stroke="#000" stroke-width="1"/>
<path d="M371.40,652.20 L378.70,655.50 L371.40,658.80 L372.70,655.50 Z" fill="#000"/>
<text x="73.8" y="666.15" font-size="9.6" text-anchor="end" fill="#111" stroke="#111" stroke-width="0.1" font-weight="normal" textLength="19.22" lengthAdjust="spacingAndGlyphs">27-V</text>
<rect x="80" y="660.60" width="43.00" height="6.3" fill="#c4c1c6"/>
<rect x="123" y="660.60" width="215.20" height="6.3" fill="#b9d3f0"/>
<line x1="240.75" y1="663.75" x2="338.2" y2="663.75" stroke="#b05a7a" stroke-width="1.6"/>
<path d="M238.40,665.85 L240.75,661.35 L243.10,665.85 Z" fill="#c00a2a"/>
<line x1="337.2" y1="663.75" x2="340.2" y2="663.75" stroke="#000" stroke-width="1"/>
<path d="M338.80,660.45 L346.10,663.75 L338.80,667.05 L340.10,663.75 Z" fill="#000"/>
<text x="73.8" y="674.40" font-size="9.6" text-anchor="end" fill="#111" stroke="#111" stroke-width="0.1" font-weight="normal" textLength="19.22" lengthAdjust="spacingAndGlyphs">28-V</text>
<rect x="80" y="668.85" width="43.00" height="6.3" fill="#c4c1c6"/>
<rect x="120.90" y="669.70" width="4.6" height="4.6" fill="#000"/>
<text x="73.8" y="682.65" font-size="9.6" text-anchor="end" fill="#111" stroke="#111" stroke-width="0.1" font-weight="normal" textLength="19.72" lengthAdjust="spacingAndGlyphs">29-C</text>
<rect x="80" y="677.10" width="43.00" height="6.3" fill="#c4c1c6"/>
<rect x="123" y="677.10" width="121.50" height="6.3" fill="#b9d3f0"/>
<line x1="123" y1="680.25" x2="244.5" y2="680.25" stroke="#5a76a8" stroke-width="1.6"/>
<path d="M120.65,682.35 L123.00,677.85 L125.35,682.35 Z" fill="#1f3f84"/>
<rect x="243.50" y="677.95" width="4.6" height="4.6" fill="#000"/>
<text x="73.8" y="690.90" font-size="9.6" text-anchor="end" fill="#111" stroke="#111" stroke-width="0.1" font-weight="normal" textLength="19.72" lengthAdjust="spacingAndGlyphs">30-C</text>
<rect x="80" y="685.35" width="43.00" height="6.3" fill="#c4c1c6"/>
<rect x="123" y="685.35" width="214.90" height="6.3" fill="#b9d3f0"/>
<line x1="138.75" y1="688.50" x2="337.9" y2="688.50" stroke="#5a76a8" stroke-width="1.6"/>
<path d="M136.40,690.60 L138.75,686.10 L141.10,690.60 Z" fill="#1f3f84"/>
<line x1="336.9" y1="688.50" x2="339.9" y2="688.50" stroke="#000" stroke-width="1"/>
<path d="M338.50,685.20 L345.80,688.50 L338.50,691.80 L339.80,688.50 Z" fill="#000"/>
<text x="73.8" y="699.15" font-size="9.6" text-anchor="end" fill="#111" stroke="#111" stroke-width="0.1" font-weight="normal" textLength="19.72" lengthAdjust="spacingAndGlyphs">31-C</text>
<rect x="80" y="693.60" width="43.00" height="6.3" fill="#c4c1c6"/>
<rect x="123" y="693.60" width="10.00" height="6.3" fill="#b9d3f0"/>
<rect x="131.00" y="694.45" width="4.6" height="4.6" fill="#000"/>
<text x="73.8" y="707.40" font-size="9.6" text-anchor="end" fill="#111" stroke="#111" stroke-width="0.1" font-weight="normal" textLength="19.72" lengthAdjust="spacingAndGlyphs">32-C</text>
<rect x="80" y="701.85" width="21.25" height="6.3" fill="#c4c1c6"/>
<rect x="98.95" y="702.70" width="4.6" height="4.6" fill="#000"/>
<text x="73.8" y="715.65" font-size="9.6" text-anchor="end" fill="#111" stroke="#111" stroke-width="0.1" font-weight="normal" textLength="19.72" lengthAdjust="spacingAndGlyphs">33-C</text>
<rect x="80" y="710.10" width="43.00" height="6.3" fill="#c4c1c6"/>
<rect x="123" y="710.10" width="166.00" height="6.3" fill="#b9d3f0"/>
<line x1="144.25" y1="713.25" x2="224.8" y2="713.25" stroke="#5a76a8" stroke-width="1.6"/>
<line x1="224.8" y1="713.25" x2="289" y2="713.25" stroke="#b05a7a" stroke-width="1.6"/>
<path d="M141.90,715.35 L144.25,710.85 L146.60,715.35 Z" fill="#1f3f84"/>
<path d="M222.45,715.35 L224.80,710.85 L227.15,715.35 Z" fill="#c00a2a"/>
<line x1="288" y1="713.25" x2="291" y2="713.25" stroke="#000" stroke-width="1"/>
<path d="M289.60,709.95 L296.90,713.25 L289.60,716.55 L290.90,713.25 Z" fill="#000"/>
<text x="73.8" y="723.90" font-size="9.6" text-anchor="end" fill="#111" stroke="#111" stroke-width="0.1" font-weight="normal" textLength="19.72" lengthAdjust="spacingAndGlyphs">34-C</text>
<rect x="80" y="718.35" width="43.00" height="6.3" fill="#c4c1c6"/>
<rect x="123" y="718.35" width="21.25" height="6.3" fill="#b9d3f0"/>
<text x="73.8" y="732.15" font-size="9.6" text-anchor="end" fill="#111" stroke="#111" stroke-width="0.1" font-weight="normal" textLength="19.72" lengthAdjust="spacingAndGlyphs">35-C</text>
<rect x="80" y="726.60" width="5.50" height="6.3" fill="#c4c1c6"/>
<text x="73.8" y="740.40" font-size="9.6" text-anchor="end" fill="#111" stroke="#111" stroke-width="0.1" font-weight="normal" textLength="19.72" lengthAdjust="spacingAndGlyphs">36-C</text>
<rect x="80" y="734.85" width="43.00" height="6.3" fill="#c4c1c6"/>
<rect x="123" y="734.85" width="103.10" height="6.3" fill="#b9d3f0"/>
<line x1="123" y1="738.00" x2="226.1" y2="738.00" stroke="#b05a7a" stroke-width="1.6"/>
<path d="M120.65,740.10 L123.00,735.60 L125.35,740.10 Z" fill="#c00a2a"/>
<line x1="225.1" y1="738.00" x2="228.1" y2="738.00" stroke="#000" stroke-width="1"/>
<path d="M226.70,734.70 L234.00,738.00 L226.70,741.30 L228.00,738.00 Z" fill="#000"/>
<text x="73.8" y="748.65" font-size="9.6" text-anchor="end" fill="#111" stroke="#111" stroke-width="0.1" font-weight="normal" textLength="19.72" lengthAdjust="spacingAndGlyphs">37-C</text>
<rect x="80" y="743.10" width="26.75" height="6.3" fill="#c4c1c6"/>
<text x="73.8" y="756.90" font-size="9.6" text-anchor="end" fill="#111" stroke="#111" stroke-width="0.1" font-weight="normal" textLength="19.72" lengthAdjust="spacingAndGlyphs">39-C</text>
<rect x="80" y="751.35" width="43.00" height="6.3" fill="#c4c1c6"/>
<rect x="123" y="751.35" width="5.25" height="6.3" fill="#b9d3f0"/>
<line x1="127.25" y1="754.50" x2="130.25" y2="754.50" stroke="#000" stroke-width="1"/>
<path d="M128.85,751.20 L136.15,754.50 L128.85,757.80 L130.15,754.50 Z" fill="#000"/>
<text x="374.4" y="694.70" font-size="8.2" text-anchor="start" fill="#222" stroke="#222" stroke-width="0.1" font-weight="normal" textLength="133.6" lengthAdjust="spacingAndGlyphs">Not eligible for response assessment</text>
<text x="374.4" y="707.10" font-size="8.2" text-anchor="start" fill="#222" stroke="#222" stroke-width="0.1" font-weight="normal" textLength="104.3" lengthAdjust="spacingAndGlyphs">Response assessment period</text>
<text x="374.4" y="719.50" font-size="8.2" text-anchor="start" fill="#222" stroke="#222" stroke-width="0.1" font-weight="normal" textLength="57.5" lengthAdjust="spacingAndGlyphs">Partial response</text>
<text x="374.4" y="731.90" font-size="8.2" text-anchor="start" fill="#222" stroke="#222" stroke-width="0.1" font-weight="normal" textLength="70.6" lengthAdjust="spacingAndGlyphs">Complete response</text>
<text x="374.4" y="744.30" font-size="8.2" text-anchor="start" fill="#222" stroke="#222" stroke-width="0.1" font-weight="normal" textLength="61.4" lengthAdjust="spacingAndGlyphs">Start of response</text>
<text x="374.4" y="756.70" font-size="8.2" text-anchor="start" fill="#222" stroke="#222" stroke-width="0.1" font-weight="normal" textLength="99.4" lengthAdjust="spacingAndGlyphs">Start of progressive disease</text>
<text x="374.4" y="769.10" font-size="8.2" text-anchor="start" fill="#222" stroke="#222" stroke-width="0.1" font-weight="normal" textLength="134.6" lengthAdjust="spacingAndGlyphs">Progressive disease during treatment</text>
<text x="374.4" y="781.50" font-size="8.2" text-anchor="start" fill="#222" stroke="#222" stroke-width="0.1" font-weight="normal" textLength="62.5" lengthAdjust="spacingAndGlyphs">Still on treatment</text>
<rect x="351.2" y="689.90" width="4.6" height="4.6" fill="#c4c1c6" stroke="#222" stroke-width="0.9"/>
<rect x="351.2" y="702.30" width="4.6" height="4.6" fill="#b9d3f0" stroke="#222" stroke-width="0.9"/>
<line x1="338.8" y1="717.00" x2="367.9" y2="717.00" stroke="#5470a4" stroke-width="1.3"/>
<line x1="338.8" y1="729.40" x2="367.9" y2="729.40" stroke="#c22f52" stroke-width="1.2"/>
<path d="M351.2,744.00 L353.6,739.50 L356,744.00 Z" fill="none" stroke="#111" stroke-width="0.9"/>
<rect x="351" y="751.80" width="4.8" height="4.8" fill="#000"/>
<line x1="338.8" y1="766.60" x2="367.9" y2="766.60" stroke="#222" stroke-width="1.2"/>
<path d="M349.70,776.00 L357.10,779.00 L349.70,782.00 L351.50,779.00 Z" fill="#000"/>
<rect x="0.9" y="0.9" width="518.2" height="835.2" fill="none" stroke="#000" stroke-width="1.8"/>
</svg>
</body></html>
